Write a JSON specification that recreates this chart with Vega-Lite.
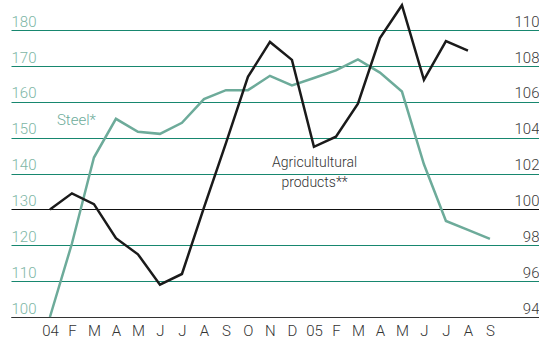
{
  "$schema": "https://vega.github.io/schema/vega-lite/v6.json",
  "width": 528,
  "height": 317,
  "autosize": "none",
  "padding": {"left": 11, "top": 0, "right": 0, "bottom": 22},
  "background": "white",
  "config": {"view": {"stroke": null}, "font": "Roboto", "axis": {"labelFont": "Roboto", "labelFontWeight": 300}},
  "data": {"values": [
    {"m": 0, "steel": 100, "agri": 100},
    {"m": 1, "steel": 120.5, "agri": 100.9},
    {"m": 2, "steel": 144.5, "agri": 100.3},
    {"m": 3, "steel": 155.3, "agri": 98.4},
    {"m": 4, "steel": 151.7, "agri": 97.5},
    {"m": 5, "steel": 151.1, "agri": 95.8},
    {"m": 6, "steel": 154.2, "agri": 96.4},
    {"m": 7, "steel": 160.8, "agri": 100.1},
    {"m": 8, "steel": 163.3, "agri": 103.7},
    {"m": 9, "steel": 163.3, "agri": 107.4},
    {"m": 10, "steel": 167.3, "agri": 109.35},
    {"m": 11, "steel": 164.6, "agri": 108.35},
    {"m": 12, "steel": 166.7, "agri": 103.5},
    {"m": 13, "steel": 168.8, "agri": 104.06},
    {"m": 14, "steel": 171.9, "agri": 105.9},
    {"m": 15, "steel": 168.2, "agri": 109.56},
    {"m": 16, "steel": 162.9, "agri": 111.4},
    {"m": 17, "steel": 142.6, "agri": 107.24},
    {"m": 18, "steel": 126.8, "agri": 109.4},
    {"m": 19, "steel": 124.3, "agri": 108.87},
    {"m": 20, "steel": 121.8, "agri": null}
  ]},
  "layer": [
    {
      "layer": [
        {
          "mark": {"type": "line", "color": "#6dab9a", "strokeWidth": 2.5},
          "encoding": {
            "x": {"field": "m", "type": "quantitative", "scale": {"domain": [-1.77, 22.23], "nice": false, "zero": false},
              "axis": {"orient": "bottom", "values": [0,1,2,3,4,5,6,7,8,9,10,11,12,13,14,15,16,17,18,19,20], "tickCount": 40,
                "labelExpr": "['04','F','M','A','M','J','J','A','S','O','N','D','05','F','M','A','M','J','J','A','S'][datum.value]",
                "ticks": false, "tickSize": 0, "grid": false, "domain": true, "domainColor": "#333333", "domainWidth": 1.2,
                "labelPadding": 6, "labelColor": "#333333", "labelFontSize": 15, "title": null, "labelFlush": false, "labelOverlap": false}},
            "y": {"field": "steel", "type": "quantitative", "scale": {"domain": [100, 188.45], "nice": false, "zero": false},
              "axis": {"orient": "left", "values": [100,110,120,130,140,150,160,170,180], "tickCount": 40, "format": "d",
                "grid": true,
                "gridColor": {"condition": [{"test": "datum.value === 130", "value": "#111111"}, {"test": "datum.value === 100", "value": "#333333"}], "value": "#17876f"},
                "gridWidth": 1.2, "ticks": false, "tickSize": 0, "domain": false,
                "labelAlign": "left", "labelBaseline": "alphabetic", "labelPadding": 0, "labelOffset": -4,
                "labelColor": "#7db6a5", "labelFontSize": 15, "title": null, "labelFlush": false, "labelOverlap": false}}
          }
        },
        {
          "data": {"values": [{"m": 0.32, "v": 153.6, "label": "Steel*"}]},
          "mark": {"type": "text", "align": "left", "baseline": "alphabetic", "fontSize": 15, "fontWeight": 300, "color": "#6dab9a"},
          "encoding": {
            "x": {"field": "m", "type": "quantitative"},
            "y": {"field": "v", "type": "quantitative"},
            "text": {"field": "label"}
          }
        },
        {
          "data": {"values": [{"m": 12.03, "v": 141.8, "label": ["Agricultultural", "products**"]}]},
          "mark": {"type": "text", "align": "center", "baseline": "alphabetic", "fontSize": 14, "fontWeight": 300, "color": "#333333", "lineHeight": 20},
          "encoding": {
            "x": {"field": "m", "type": "quantitative"},
            "y": {"field": "v", "type": "quantitative"},
            "text": {"field": "label"}
          }
        }
      ]
    },
    {
      "mark": {"type": "line", "color": "#1a1a1a", "strokeWidth": 2.5},
      "encoding": {
        "x": {"field": "m", "type": "quantitative"},
        "y": {"field": "agri", "type": "quantitative", "scale": {"domain": [94, 111.69], "nice": false, "zero": false},
          "axis": {"orient": "right", "values": [94,96,98,100,102,104,106,108,110], "tickCount": 40, "format": "d", "grid": false, "ticks": false, "tickSize": 0, "domain": false,
            "labelAlign": "right", "labelBaseline": "alphabetic", "labelPadding": 0, "labelOffset": -4,
            "labelColor": "#3a3a3a", "labelFontSize": 15, "title": null, "labelFlush": false, "labelOverlap": false}}
      }
    }
  ],
  "resolve": {"scale": {"y": "independent"}}
}
